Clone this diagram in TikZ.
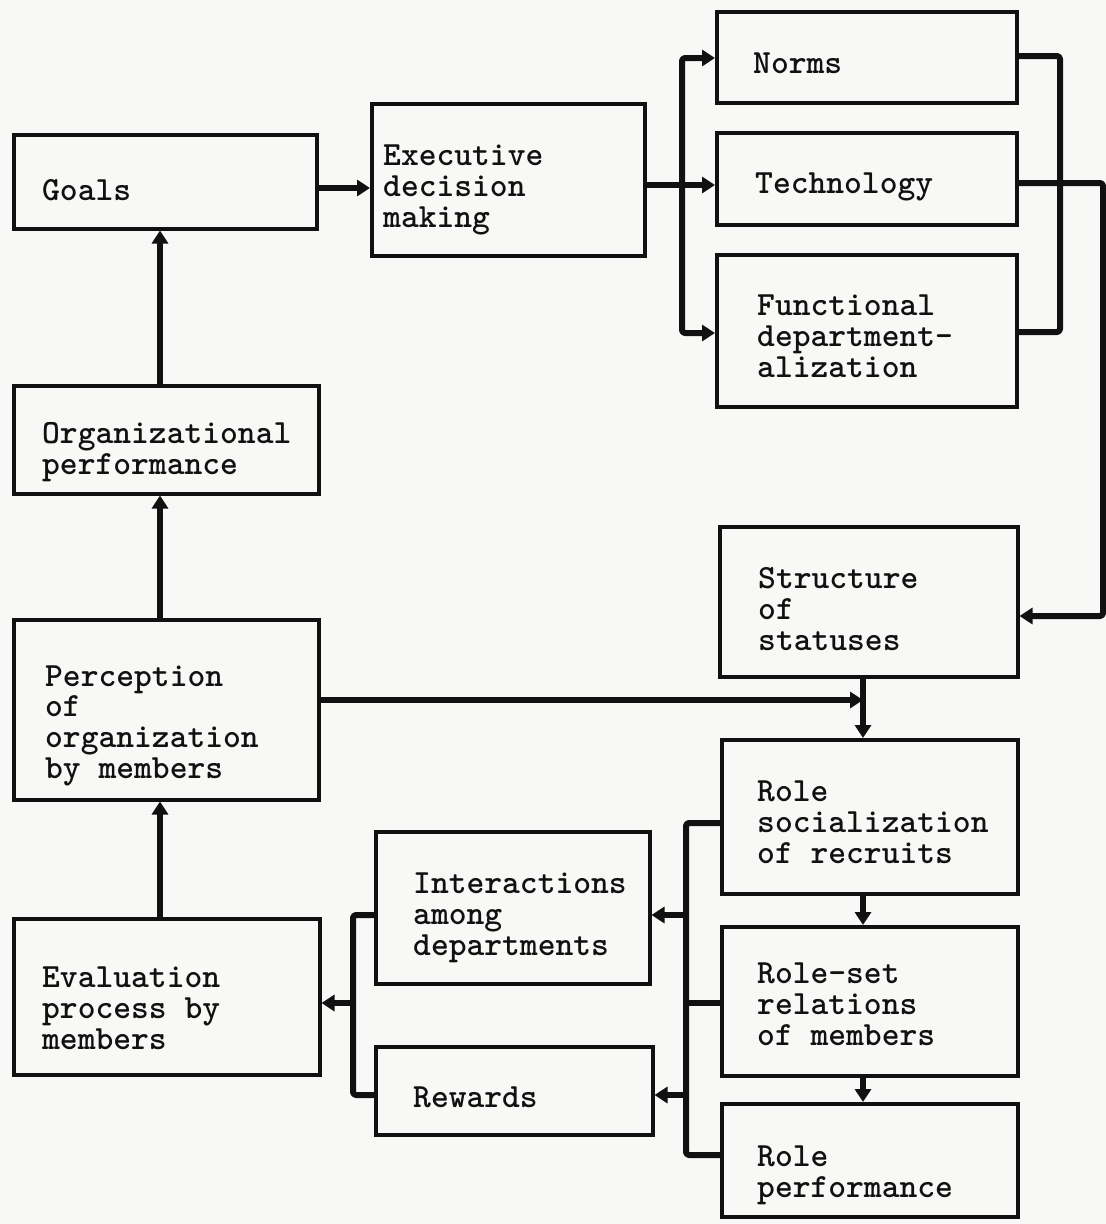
\documentclass[tikz,border=0pt]{standalone}
\usepackage{fontspec}
\usetikzlibrary{arrows.meta}
\definecolor{ink}{HTML}{111111}
\definecolor{paper}{HTML}{F8F8F6}
\newfontfamily\twfont{lmmonolt10-bold}[Extension=.otf]
\newcommand\typewriter{\twfont\fontsize{33.9}{30.6}\selectfont}
\tikzset{
  box/.style={draw=ink, line width=3.5pt, inner sep=0pt, anchor=north west},
  % anchored at the baseline of the last line of each label
  txt/.style={inner sep=0pt, anchor=base west, align=left, text=ink,
    font=\typewriter},
  conn/.style={draw=ink, line width=6pt, line join=round},
  tip/.tip={Triangle[length=13pt,width=16pt]},
}
% \bx{name}{x1}{y1}{x2}{y2}: empty box from top-left to bottom-right
\newcommand\bx[5]{%
  \pgfmathsetmacro\bxw{#4-#2}\pgfmathsetmacro\bxh{#5-#3}%
  \node[box, minimum width=\bxw pt, minimum height=\bxh pt] (#1) at (#2,#3) {};}
\begin{document}
\begin{tikzpicture}[x=1pt,y=-1pt]
\fill[paper] (0,0) rectangle (1106,1224);
\useasboundingbox (0,0) rectangle (1106,1224);

% boxes
\bx{goals}{12}{133}{315}{227}
\bx{exec}{370}{102}{643}{254}
\bx{norms}{715}{10}{1015}{101}
\bx{tech}{715}{131}{1015}{223}
\bx{func}{715}{253}{1015}{405}
\bx{orgp}{12}{384}{317}{492}
\bx{struct}{718}{525}{1016}{675}
\bx{percep}{12}{618}{317}{798}
\bx{rolesoc}{720}{738}{1016}{892}
\bx{inter}{374}{830}{648}{982}
\bx{evalp}{12}{917}{318}{1073}
\bx{roleset}{720}{925}{1016}{1074}
\bx{rewards}{374}{1045}{651}{1133}
\bx{roleperf}{720}{1102}{1016}{1215}

% labels
\node[txt] (goals-t) at (42,200) {Goals};
\node[txt] (exec-t) at (383,227) {Executive\\decision\\making};
\node[txt] (norms-t) at (753,73) {Norms};
\node[txt] (tech-t) at (755,193) {Technology};
\node[txt] (func-t) at (757,377) {Functional\\department-\\alization};
\node[txt] (orgp-t) at (42,474) {Organizational\\performance};
\node[txt] (struct-t) at (758,650) {Structure\\of\\statuses};
\node[txt] (percep-t) at (45,778) {Perception\\of\\organization\\by members};
\node[txt] (rolesoc-t) at (757,863) {Role\\socialization\\of recruits};
\node[txt] (inter-t) at (413,955) {Interactions\\among\\departments};
\node[txt] (evalp-t) at (42,1049) {Evaluation\\process by\\members};
\node[txt] (roleset-t) at (757,1045) {Role-set\\relations\\of members};
\node[txt] (rewards-t) at (413,1107) {Rewards};
\node[txt] (roleperf-t) at (757,1197) {Role\\performance};

% routing points
\coordinate (lx) at (160,0);
\coordinate (gy) at (0,188);
\coordinate (tb) at (682,185);
\coordinate (nb) at (682,58);
\coordinate (fb) at (682,333);
\coordinate (nr) at (1060,56);
\coordinate (fr) at (1060,332);
\coordinate (tr) at (1103,183);
\coordinate (sr) at (1103,616);
\coordinate (jx) at (863,700);
\coordinate (rt) at (686,823);
\coordinate (rm) at (686,1003);
\coordinate (ri) at (686,915);
\coordinate (rr) at (686,1095);
\coordinate (rb) at (686,1155);
\coordinate (lt) at (353,915);
\coordinate (lm) at (353,1003);
\coordinate (lb) at (353,1095);

% upper chain
\draw[conn, -tip] (goals.east |- gy) -- (exec.west |- gy);
\draw[conn, -tip] (exec.east |- tb) -- (tech.west |- tb);
\draw[conn, tip-tip, rounded corners=3pt] (norms.west |- nb) -- (nb) -- (fb) -- (func.west |- fb);
\draw[conn, rounded corners=3pt] (norms.east |- nr) -- (nr) -- (fr) -- (func.east |- fr);
\draw[conn, -tip, rounded corners=3pt] (tech.east |- tr) -- (tr) -- (sr) -- (struct.east |- sr);

% left column
\draw[conn, -tip] (orgp.north -| lx) -- (goals.south -| lx);
\draw[conn, -tip] (percep.north -| lx) -- (orgp.south -| lx);
\draw[conn, -tip] (evalp.north -| lx) -- (percep.south -| lx);

% right column
\draw[conn, -tip] (percep.east |- jx) -- (jx);
\draw[conn, -tip] (struct.south -| jx) -- (rolesoc.north -| jx);
\draw[conn, -tip] (rolesoc.south -| jx) -- (roleset.north -| jx);
\draw[conn, -tip] (roleset.south -| jx) -- (roleperf.north -| jx);

% role buses
\draw[conn, rounded corners=3pt] (rolesoc.west |- rt) -- (rt) -- (rb) -- (roleperf.west |- rb);
\draw[conn] (roleset.west |- rm) -- (rm);
\draw[conn, -tip] (ri) -- (inter.east |- ri);
\draw[conn, -tip] (rr) -- (rewards.east |- rr);
\draw[conn, rounded corners=3pt] (inter.west |- lt) -- (lt) -- (lb) -- (rewards.west |- lb);
\draw[conn, -tip] (lm) -- (evalp.east |- lm);
\end{tikzpicture}
\end{document}
